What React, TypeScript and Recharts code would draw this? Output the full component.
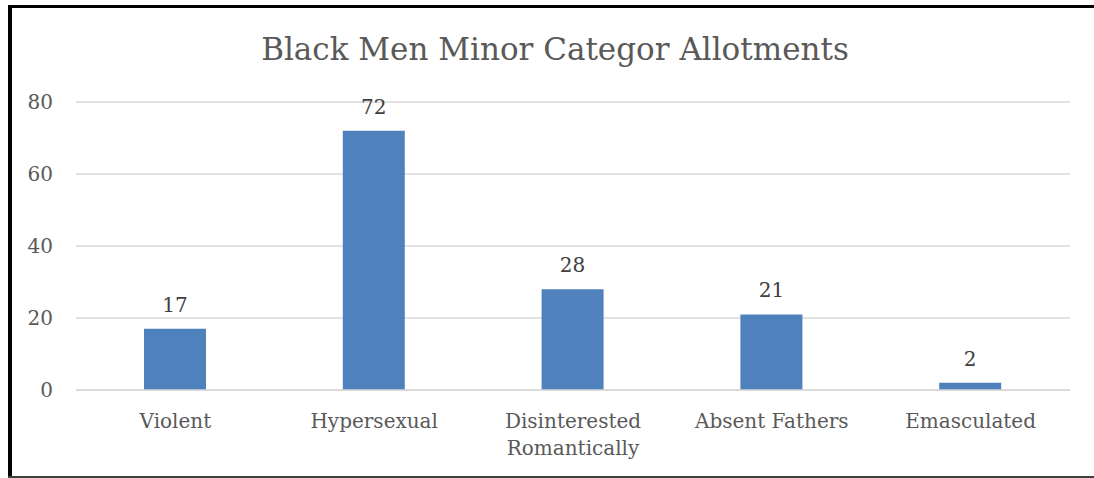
import React from 'react';
import { BarChart, Bar, XAxis, YAxis, CartesianGrid, LabelList, Text } from 'recharts';

const categories = ['Violent', 'Hypersexual', 'Disinterested Romantically', 'Absent Fathers', 'Emasculated'];
const allotments = [17, 72, 28, 21, 2];
const yTicks = [0, 20, 40, 60, 80];

const data = categories.map((name, i) => ({ name, value: allotments[i] }));

const FONT = '"DejaVu Serif", serif';
const TEXT_GRAY = '#595959';

const CategoryTick = ({ x, y, payload }: any) => (
  <Text
    x={x}
    y={y}
    width={180}
    textAnchor="middle"
    verticalAnchor="start"
    lineHeight={27}
    fill={TEXT_GRAY}
    style={{ fontFamily: FONT, fontSize: 20 }}
  >
    {payload.value}
  </Text>
);

export default function App() {
  return (
    <div
      style={{
        position: 'absolute',
        left: 0,
        top: 0,
        width: 1094,
        height: 478,
        background: '#fff',
        overflow: 'hidden',
      }}
    >
      {/* frame: heavy left/top edges, thin dark bottom */}
      <div style={{ position: 'absolute', left: 8, top: 5, width: 4, height: 473, background: '#000' }} />
      <div style={{ position: 'absolute', left: 8, top: 5, width: 1086, height: 3, background: '#000' }} />
      <div style={{ position: 'absolute', left: 8, top: 476, width: 1086, height: 2, background: '#404040' }} />

      <div
        style={{
          position: 'absolute',
          left: 0,
          width: 1110,
          top: 29,
          textAlign: 'center',
          fontFamily: FONT,
          fontSize: 31,
          color: TEXT_GRAY,
          lineHeight: '40px',
        }}
      >
        Black Men Minor Categor Allotments
      </div>

      <div style={{ position: 'absolute', left: 0, top: 0 }}>
        <BarChart
          width={1094}
          height={478}
          data={data}
          margin={{ top: 102, right: 24, bottom: 28, left: 26 }}
        >
          <CartesianGrid vertical={false} stroke="#d9d9d9" strokeWidth={1.5} />
          <XAxis
            dataKey="name"
            height={60}
            axisLine={{ stroke: '#d9d9d9', strokeWidth: 1.5 }}
            tickLine={false}
            tickSize={0}
            tickMargin={24}
            interval={0}
            tick={<CategoryTick />}
          />
          <YAxis
            width={50}
            domain={[0, 80]}
            ticks={yTicks}
            axisLine={false}
            tickLine={false}
            tickSize={0}
            tickMargin={23}
            tick={{ fill: TEXT_GRAY, fontSize: 20, fontFamily: FONT }}
          />
          <Bar dataKey="value" fill="#4f81bd" barSize={62} isAnimationActive={false}>
            <LabelList
              dataKey="value"
              position="top"
              offset={17}
              fill="#404040"
              style={{ fontFamily: FONT, fontSize: 20 }}
            />
          </Bar>
        </BarChart>
      </div>
    </div>
  );
}
